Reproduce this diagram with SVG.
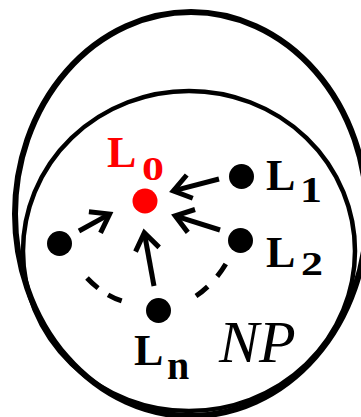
<svg xmlns="http://www.w3.org/2000/svg" width="361" height="417" viewBox="0 0 361 417">
<style>
.lbl{font-family:"Liberation Serif","Times New Roman",serif;font-weight:bold;font-size:44px;fill:#000}
.red{fill:#ff0000}
.dot{fill:#000}
.arrow{stroke:#000;stroke-width:5;fill:none;marker-end:url(#head)}
.dash{stroke:#000;stroke-width:5;fill:none}
</style>
<defs>
<marker id="head" markerUnits="userSpaceOnUse" orient="auto" refX="0" refY="0" markerWidth="40" markerHeight="40" overflow="visible">
<path d="M-17,-12 L0,0 L-17,12" fill="none" stroke="#000" stroke-width="5" stroke-linejoin="miter"/>
</marker>
</defs>
<g id="outer">
<ellipse cx="191" cy="214" rx="176" ry="202" fill="none" stroke="#000" stroke-width="6"/>
</g>
<g id="NP">
<ellipse cx="189" cy="251" rx="166" ry="160" fill="none" stroke="#000" stroke-width="4.5"/>
<text x="219" y="362" font-family="Liberation Serif, Times New Roman, serif" font-style="italic" font-size="60">NP</text>
</g>
<g id="connectors">
<path class="arrow" d="M219,179 L173.3,190.9"/>
<path class="arrow" d="M220,230 L175.2,215.8"/>
<path class="arrow" d="M154,286 L144.3,232.8"/>
<path class="arrow" d="M79,231 L109.6,214.1"/>
<path class="dash" d="M87,278 Q104,296 125,302" stroke-dasharray="15 12"/>
<path class="dash" d="M196,296 Q215,283 227,262" stroke-dasharray="15 14"/>
</g>
<g id="L0">
<circle cx="145" cy="201" r="12.5" fill="#ff0000"/>
<text class="lbl red" x="107" y="167">L</text>
<text class="lbl red" transform="translate(142,180) scale(1,0.78)">0</text>
</g>
<g id="L1">
<circle class="dot" cx="241.5" cy="176.5" r="12.5"/>
<text class="lbl" x="266" y="190">L</text>
<text class="lbl" transform="translate(300,202) scale(1,0.82)">1</text>
</g>
<g id="L2">
<circle class="dot" cx="240.5" cy="240.5" r="12.5"/>
<text class="lbl" x="266" y="267">L</text>
<text class="lbl" transform="translate(301,275) scale(1,0.78)">2</text>
</g>
<g id="Lk">
<circle class="dot" cx="59.5" cy="243.5" r="12.5"/>
</g>
<g id="Ln">
<circle class="dot" cx="158.5" cy="310.5" r="12.5"/>
<text class="lbl" x="134" y="365">L</text>
<text class="lbl" x="167" y="379" style="font-size:40px">n</text>
</g>
</svg>
